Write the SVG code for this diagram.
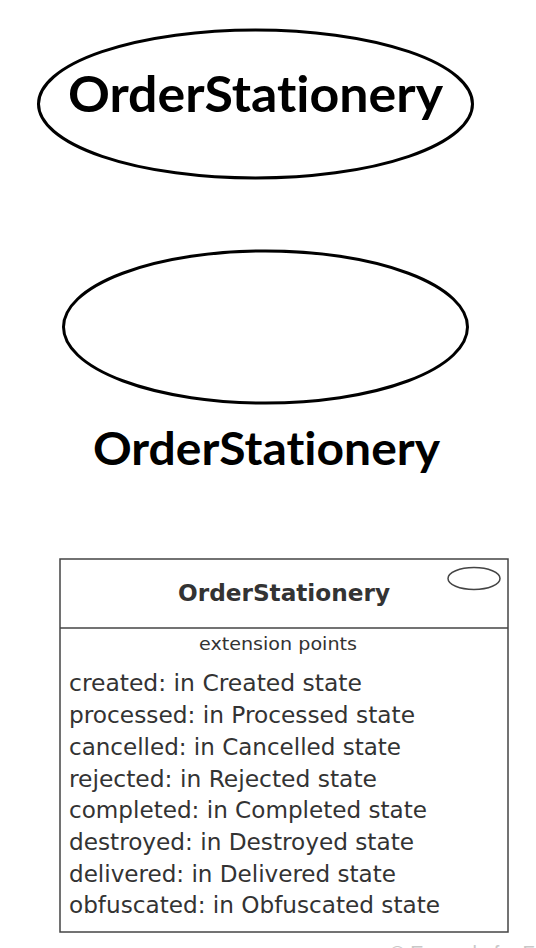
<svg xmlns="http://www.w3.org/2000/svg" width="536" height="948" viewBox="0 0 536 948">
<style>
.big{font-family:Lato,"Open Sans","Liberation Sans",sans-serif;font-weight:bold;fill:#000;font-variant-ligatures:none;font-feature-settings:"liga" 0,"clig" 0,"dlig" 0}
.uc{fill:#fff;stroke:#000;stroke-width:3}
.box{fill:#fff;stroke:#444;stroke-width:1.5}
.v{font-family:"DejaVu Sans Condensed","DejaVu Sans",Verdana,sans-serif;fill:#333}
</style>
<rect width="536" height="948" fill="#fff"/>
<g id="usecase1">
<ellipse class="uc" cx="255.5" cy="104" rx="217" ry="74"/>
<text class="big" x="68" y="112" font-size="49" textLength="375" lengthAdjust="spacingAndGlyphs">OrderStationery</text>
</g>
<g id="usecase2">
<ellipse class="uc" cx="265.5" cy="327" rx="202" ry="76"/>
<text class="big" x="93" y="465" font-size="45" textLength="347" lengthAdjust="spacingAndGlyphs">OrderStationery</text>
</g>
<g id="usecase3">
<rect class="box" x="60" y="559" width="448" height="373"/>
<line class="box" x1="60" y1="628" x2="508" y2="628"/>
<ellipse fill="none" stroke="#444" stroke-width="1.5" cx="474" cy="578.5" rx="26" ry="11"/>
<text class="v" x="178" y="601" font-size="23" font-weight="bold" fill="#1a1a1a" textLength="212" lengthAdjust="spacingAndGlyphs">OrderStationery</text>
<text class="v" x="199" y="650" font-size="17" textLength="158" lengthAdjust="spacingAndGlyphs">extension points</text>
<g class="v" font-size="23">
<text x="69" y="691" textLength="293" lengthAdjust="spacingAndGlyphs">created: in Created state</text>
<text x="69" y="723" textLength="346" lengthAdjust="spacingAndGlyphs">processed: in Processed state</text>
<text x="69" y="755" textLength="332" lengthAdjust="spacingAndGlyphs">cancelled: in Cancelled state</text>
<text x="69" y="787" textLength="308" lengthAdjust="spacingAndGlyphs">rejected: in Rejected state</text>
<text x="69" y="818" textLength="358" lengthAdjust="spacingAndGlyphs">completed: in Completed state</text>
<text x="69" y="850" textLength="345" lengthAdjust="spacingAndGlyphs">destroyed: in Destroyed state</text>
<text x="69" y="882" textLength="327" lengthAdjust="spacingAndGlyphs">delivered: in Delivered state</text>
<text x="69" y="913" textLength="371" lengthAdjust="spacingAndGlyphs">obfuscated: in Obfuscated state</text>
</g>
</g>
<text x="390" y="960" font-family="'Liberation Sans',sans-serif" font-size="20" fill="#c8c8c8">© Example for FC</text>
</svg>
